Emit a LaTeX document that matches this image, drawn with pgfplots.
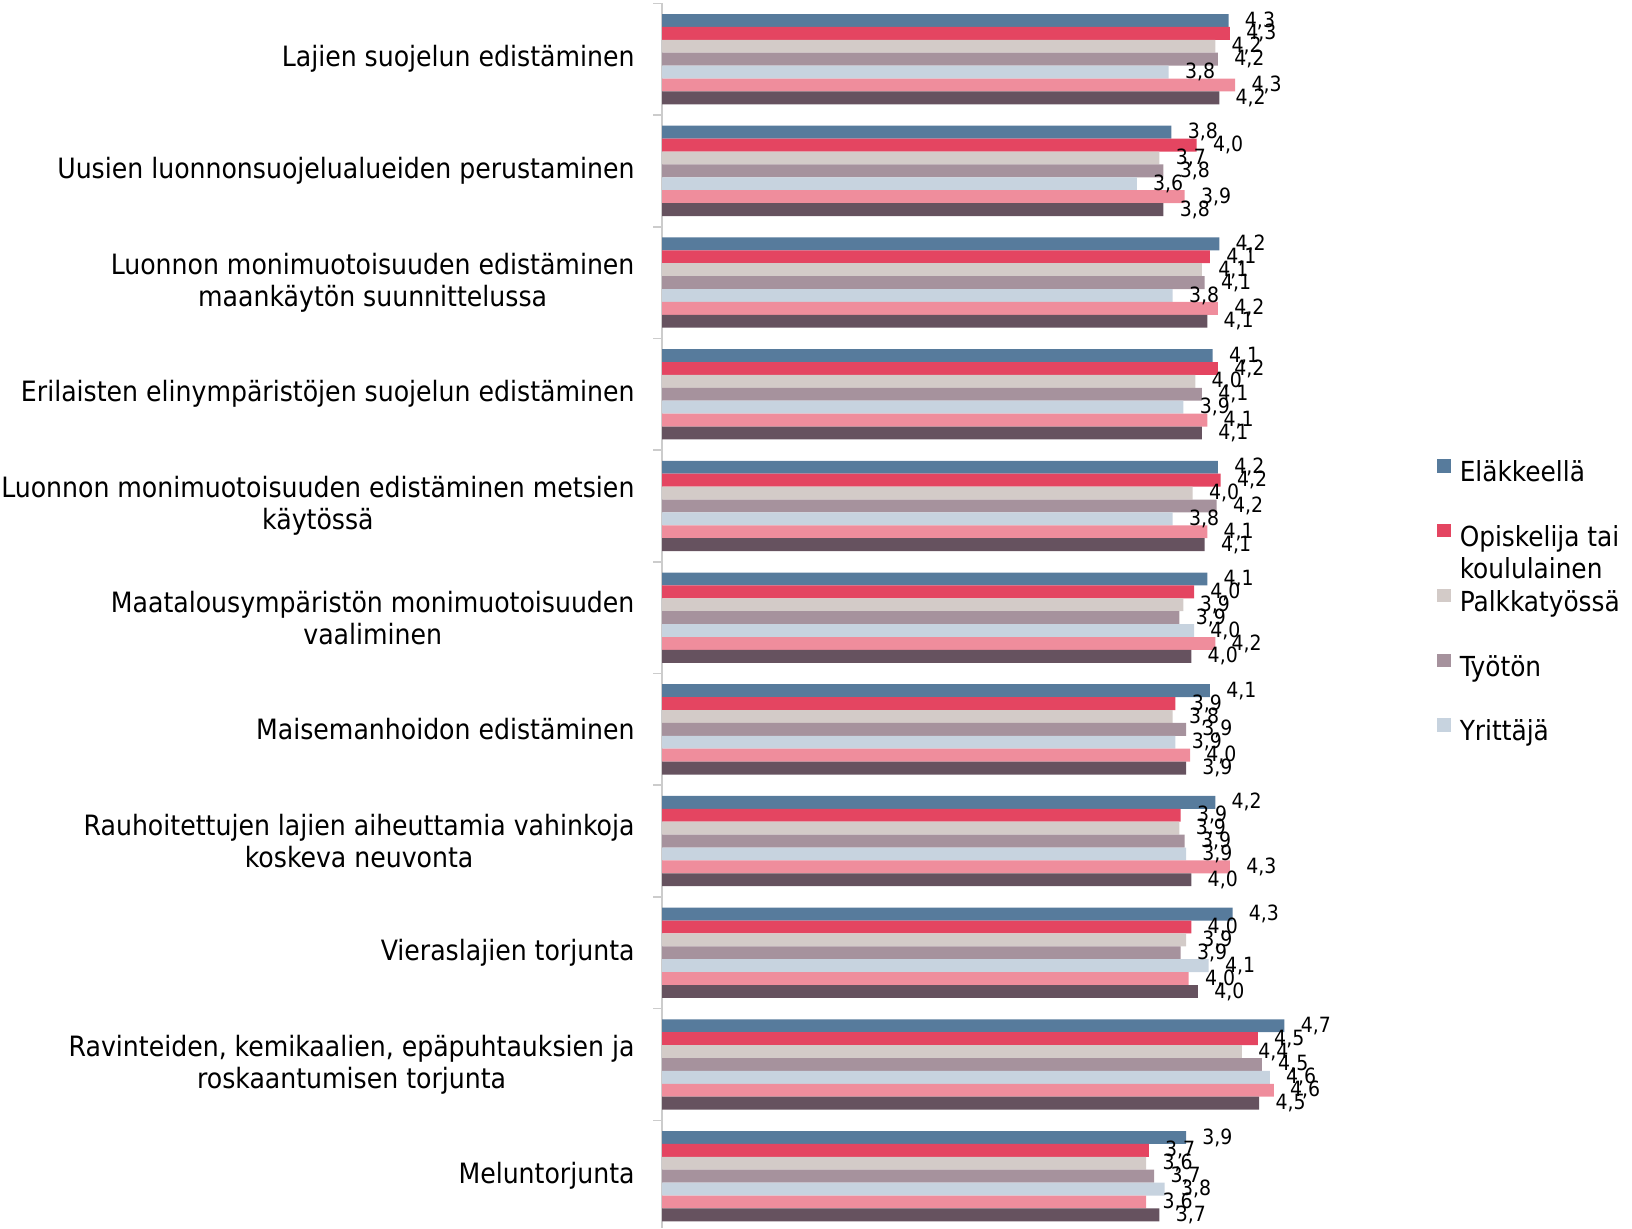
\documentclass[border=0pt]{standalone}
\usepackage{pgfplots}
\pgfplotsset{compat=1.18}
\usepackage{fontspec}
\setmainfont{DejaVu Sans Condensed}
\definecolor{cA}{HTML}{577B9C}
\definecolor{cB}{HTML}{E44561}
\definecolor{cC}{HTML}{D3CBC8}
\definecolor{cD}{HTML}{A6929D}
\definecolor{cE}{HTML}{C7D3DF}
\definecolor{cF}{HTML}{EF8D9C}
\definecolor{cG}{HTML}{66525F}
\newcommand\lstrut{\rule[-6.5pt]{0pt}{17pt}}
\begin{document}
\begin{tikzpicture}
\useasboundingbox (0,0) rectangle (816pt,614pt);
\begin{axis}[
  at={(331pt,612.35pt)}, anchor=north west,
  scale only axis, width=332.5pt, height=612.35pt,
  xmin=0, xmax=5, ymin=-0.5, ymax=10.464, y dir=reverse,
  xbar=0pt, bar width=6.45pt,
  axis x line=none, axis y line*=left,
  y axis line style={draw=black!20, line width=0.8pt},
  ytick={0,...,10},
  yticklabels={
    Lajien suojelun edistäminen,
    Uusien luonnonsuojelualueiden perustaminen,
    Luonnon monimuotoisuuden edistäminen\\maankäytön suunnittelussa,
    Erilaisten elinympäristöjen suojelun edistäminen,
    Luonnon monimuotoisuuden edistäminen metsien\\käytössä,
    Maatalousympäristön monimuotoisuuden\\vaaliminen,
    Maisemanhoidon edistäminen,
    Rauhoitettujen lajien aiheuttamia vahinkoja\\koskeva neuvonta,
    Vieraslajien torjunta,
    {Ravinteiden, kemikaalien, epäpuhtauksien ja\\roskaantumisen torjunta},
    Meluntorjunta},
  minor ytick={-0.5,0.5,1.5,2.5,3.5,4.5,5.5,6.5,7.5,8.5,9.5},
  major tick length=0pt, minor tick length=4.5pt, tick align=outside,
  minor tick style={draw=black!20, line width=0.8pt},
  yticklabel style={align=center, font=\fontsize{14}{16}\selectfont, inner sep=0pt, xshift=-13.5pt},
  clip=false,
  nodes near coords,
  every node near coord/.append style={font=\fontsize{10.5}{12}\selectfont, anchor=west, inner sep=0pt, xshift=8pt, text=black},
  /pgf/number format/.cd, fixed, fixed zerofill, precision=1, use comma, assume math mode=true,
  /pgfplots/.cd,
  legend style={at={(1.1654,0.5115)}, anchor=west, draw=none, fill=none, inner sep=0pt,
    font=\fontsize{13.8}{16}\selectfont, row sep=19.7pt, nodes={inner sep=0pt},
    /tikz/every odd column/.append style={column sep=4.5pt}},
  legend cell align=left,
  legend image code/.code={\fill[#1] (0pt,0pt) rectangle (6.7pt,6.7pt);},
]
\addplot[fill=cA, draw=none, bar shift=19.35pt] coordinates {(4.26,0) (3.83,1) (4.19,2) (4.14,3) (4.18,4) (4.10,5) (4.12,6) (4.16,7) (4.29,8) (4.68,9) (3.94,10)};
\addlegendentry{\lstrut Eläkkeellä}
\addplot[fill=cB, draw=none, bar shift=12.9pt] coordinates {(4.27,0) (4.02,1) (4.12,2) (4.18,3) (4.20,4) (4.00,5) (3.86,6) (3.90,7) (3.98,8) (4.48,9) (3.66,10)};
\addlegendentry{\lstrut\rlap{\raisebox{-16pt}[0pt][0pt]{koululainen}}Opiskelija tai}
\addplot[fill=cC, draw=none, bar shift=6.45pt] coordinates {(4.16,0) (3.74,1) (4.06,2) (4.01,3) (3.99,4) (3.92,5) (3.84,6) (3.89,7) (3.94,8) (4.36,9) (3.64,10)};
\addlegendentry{\lstrut Palkkatyössä}
\addplot[fill=cD, draw=none, bar shift=0pt] coordinates {(4.18,0) (3.77,1) (4.08,2) (4.06,3) (4.17,4) (3.89,5) (3.94,6) (3.93,7) (3.90,8) (4.51,9) (3.70,10)};
\addlegendentry{\lstrut Työtön}
\addplot[fill=cE, draw=none, bar shift=-6.45pt] coordinates {(3.81,0) (3.57,1) (3.84,2) (3.92,3) (3.84,4) (4.00,5) (3.86,6) (3.94,7) (4.11,8) (4.57,9) (3.78,10)};
\addlegendentry{\lstrut Yrittäjä}
\addplot[fill=cF, draw=none, bar shift=-12.9pt] coordinates {(4.31,0) (3.93,1) (4.18,2) (4.10,3) (4.10,4) (4.16,5) (3.97,6) (4.27,7) (3.96,8) (4.60,9) (3.64,10)};
\addplot[fill=cG, draw=none, bar shift=-19.35pt] coordinates {(4.19,0) (3.77,1) (4.10,2) (4.06,3) (4.08,4) (3.98,5) (3.94,6) (3.98,7) (4.03,8) (4.49,9) (3.74,10)};
\end{axis}
\end{tikzpicture}
\end{document}
